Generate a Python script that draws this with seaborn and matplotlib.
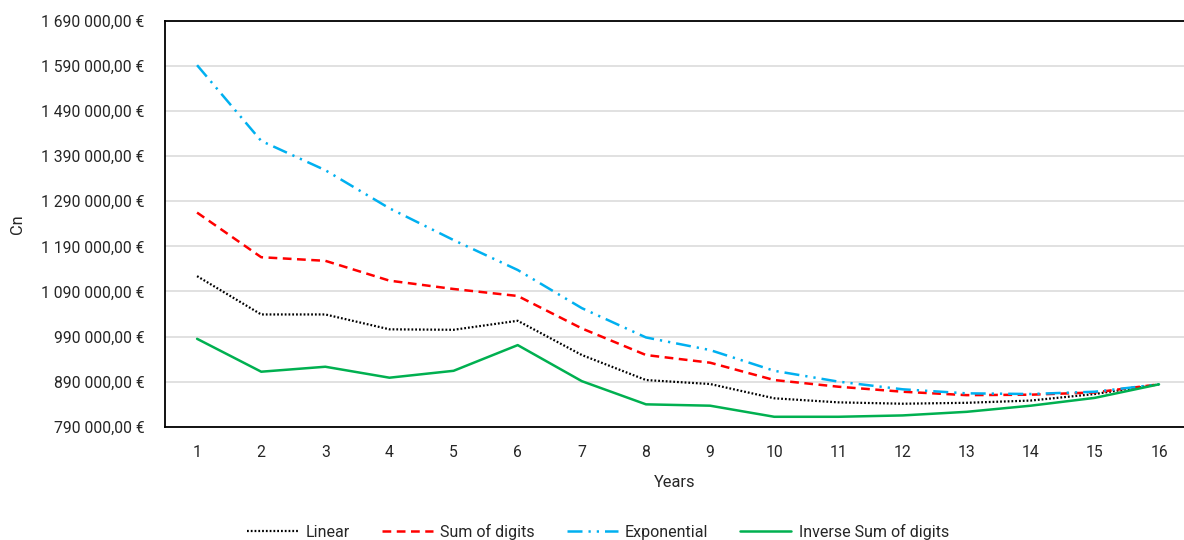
import numpy as np
import pandas as pd
import matplotlib
matplotlib.use("Agg")
import matplotlib.pyplot as plt
import seaborn as sns
from matplotlib.ticker import FuncFormatter

years = list(range(1, 17))
linear = [1124000, 1039000, 1039000, 1006000, 1005000, 1025000, 949000, 893500,
          884700, 853000, 844000, 841000, 843000, 848000, 862500, 884000]
sum_of_digits = [1265000, 1166000, 1158000, 1114000, 1095500, 1080000, 1008000, 949000,
                 932000, 893500, 878700, 867600, 860000, 861000, 866000, 884000]
exponential = [1592000, 1424000, 1359000, 1274500, 1204000, 1137600, 1053000, 988000,
               960000, 914000, 890000, 873000, 864000, 862500, 867600, 884000]
inverse_sod = [985000, 912000, 923000, 898700, 914000, 971000, 891000, 839600,
               836600, 812000, 812000, 815000, 823000, 836600, 854000, 884000]
series_names = ["Linear", "Sum of digits", "Exponential", "Inverse Sum of digits"]
y_ticks = list(range(790000, 1690001, 100000))

df = pd.DataFrame({
    "Years": years * 4,
    "Cn": linear + sum_of_digits + exponential + inverse_sod,
    "Series": sum([[n] * len(years) for n in series_names], []),
})

sns.set_theme(style="white")
plt.rcParams["font.family"] = ["Roboto", "DejaVu Sans"]

W, H = 1184, 540
fig = plt.figure(figsize=(W / 100, H / 100), dpi=100)
ax = fig.add_axes([165 / W, 1 - 426.7 / H, 1 - 165 / W, (426.7 - 21) / H])

palette = {"Linear": "#000000", "Sum of digits": "#FF0000",
           "Exponential": "#00B0F0", "Inverse Sum of digits": "#00B050"}
dashes = {"Linear": (0.8, 0.9), "Sum of digits": (3.5, 2.2),
          "Exponential": (6, 2.4, 0.9, 2.4, 0.9, 2.4), "Inverse Sum of digits": ""}
widths = {"Linear": 1.6, "Sum of digits": 1.8, "Exponential": 1.8, "Inverse Sum of digits": 1.8}

for name in series_names:
    sub = df[df["Series"] == name]
    sns.lineplot(data=sub, x="Years", y="Cn", ax=ax, color=palette[name],
                 linewidth=widths[name], label=name)
    ln = ax.lines[-1]
    if dashes[name]:
        ln.set_dashes(dashes[name])

ax.set_xlim(0.5, 0.5 + (W - 165) / 64.13)
ax.set_ylim(790000, 1690000)
ax.set_xticks(years)
ax.set_xticklabels([str(y) for y in years])
ax.set_yticks(y_ticks)
ax.yaxis.set_major_formatter(FuncFormatter(
    lambda v, p: f"{int(v):,}".replace(",", " ") + ",00 €"))
ax.grid(axis="y", color="#D9D9D9", linewidth=1.1)
ax.set_axisbelow(True)
for s in ["left", "bottom", "top"]:
    ax.spines[s].set_color("#000000")
    ax.spines[s].set_linewidth(1.3)
ax.spines["right"].set_visible(False)
ax.tick_params(axis="both", length=0, labelsize=11.3, colors="#262626")
ax.tick_params(axis="x", pad=13)
ax.tick_params(axis="y", pad=14.5)
ax.set_xlabel("Years", fontsize=11.8, color="#262626", labelpad=11)
ax.set_ylabel("Cn", fontsize=11.8, color="#262626")
ax.yaxis.set_label_coords(-140 / (W - 165), 0.5)

h, l = ax.get_legend_handles_labels()
ax.get_legend().remove()
fig.legend(h, l, loc="center", bbox_to_anchor=(598 / W, 1 - 532 / H), ncol=4,
           frameon=False, fontsize=11.5, handlelength=3.2, handletextpad=0.45,
           columnspacing=2.0, labelcolor="#262626")

fig.savefig("out.png", dpi=100)
